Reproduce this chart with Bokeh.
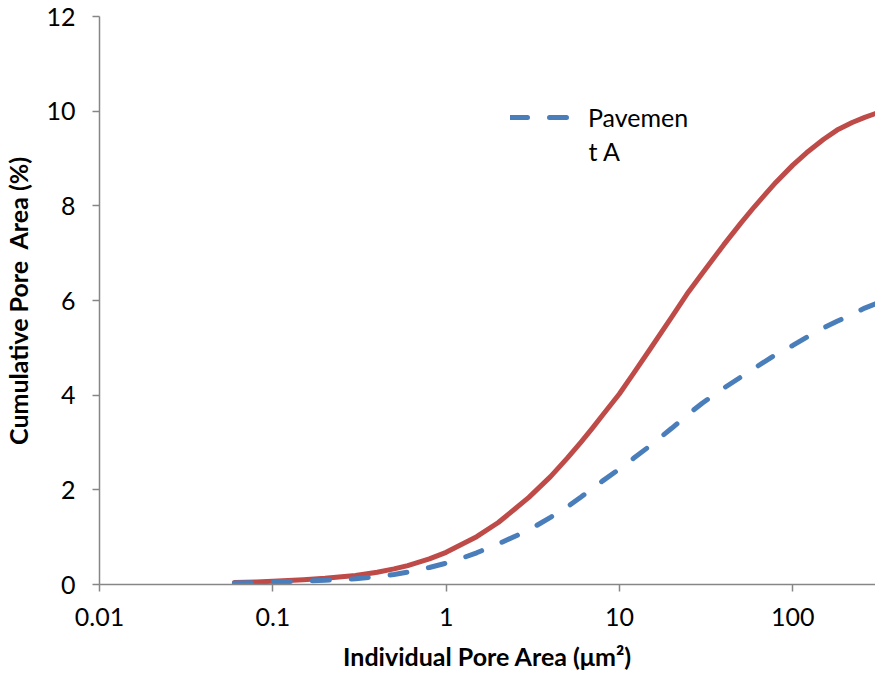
from bokeh.plotting import figure
from bokeh.models import (Range1d, FixedTicker, CustomJSTickFormatter, Legend, LegendItem, Label)
from bokeh.embed import file_html
from bokeh.resources import INLINE

# Data
pore_area = [0.06, 0.08, 0.1, 0.15, 0.2, 0.3, 0.4, 0.5, 0.6, 0.8, 1, 1.2, 1.5, 2, 2.5, 3, 4, 5, 6, 7, 8,
             10, 12, 15, 20, 25, 30, 40, 50, 60, 80, 100, 120, 150, 180, 220, 260, 300]
pavement_a = [0.03, 0.04, 0.05, 0.07, 0.09, 0.12, 0.17, 0.21, 0.26, 0.36, 0.45, 0.54, 0.67, 0.86, 1.02, 1.15, 1.42, 1.64, 1.85, 2.03, 2.19,
              2.44, 2.66, 2.93, 3.3, 3.6, 3.83, 4.15, 4.38, 4.57, 4.86, 5.05, 5.22, 5.42, 5.56, 5.71, 5.84, 5.93]
pavement_b = [0.04, 0.055, 0.07, 0.1, 0.13, 0.19, 0.26, 0.33, 0.4, 0.54, 0.68, 0.83, 1.01, 1.31, 1.6, 1.84, 2.28, 2.67, 3.01, 3.31, 3.58,
              4.03, 4.45, 4.97, 5.65, 6.18, 6.57, 7.18, 7.63, 7.98, 8.5, 8.86, 9.12, 9.4, 9.6, 9.76, 9.87, 9.95]

x_ticks = [0.01, 0.1, 1, 10, 100]
y_ticks = [0, 2, 4, 6, 8, 10, 12]

FONT = "Lato"
AXIS_COLOR = "#868686"

p = figure(width=875, height=678, x_axis_type="log",
           x_range=Range1d(0.01, 300), y_range=Range1d(0, 12),
           output_backend="svg", toolbar_location=None,
           min_border_left=98, min_border_right=0, min_border_top=16, min_border_bottom=94)
p.outline_line_color = None
p.xgrid.visible = False
p.ygrid.visible = False

red = p.line(pore_area, pavement_b, line_color="#BE4B48", line_width=5, line_cap="round", line_join="round")
blue = p.line(pore_area, pavement_a, line_color="#4A7EBB", line_width=5, line_dash="17 22", line_cap="round")

for ax in (p.xaxis[0], p.yaxis[0]):
    ax.axis_line_color = AXIS_COLOR
    ax.axis_line_width = 1.5
    ax.major_tick_line_color = AXIS_COLOR
    ax.major_tick_line_width = 1.5
    ax.major_tick_out = 7
    ax.major_tick_in = 0
    ax.minor_tick_line_color = None
    ax.major_label_text_font = FONT
    ax.major_label_text_font_size = "25px"
    ax.major_label_text_color = "#000000"
    ax.axis_label_text_font = FONT
    ax.axis_label_text_font_size = "25px"
    ax.axis_label_text_font_style = "bold"
    ax.axis_label_text_color = "#000000"

p.xaxis.ticker = FixedTicker(ticks=x_ticks)
p.xaxis.formatter = CustomJSTickFormatter(code="return tick.toString();")
p.xaxis.major_label_standoff = 16
p.xaxis.axis_label = "Individual Pore Area (μm²)"
p.xaxis.axis_label_standoff = 12

p.yaxis.ticker = FixedTicker(ticks=y_ticks)
p.yaxis.major_label_standoff = 17
p.yaxis.axis_label = "Cumulative Pore\u00a0 Area (%)"
p.yaxis.axis_label_standoff = 10

legend = Legend(items=[LegendItem(label="Pavemen", renderers=[blue])],
                location=(411, 452), glyph_width=64, glyph_height=30, label_height=30,
                label_standoff=14, padding=0, margin=0, spacing=0,
                border_line_color=None, background_fill_alpha=0,
                label_text_font=FONT, label_text_font_size="25px", label_text_color="#000000")
p.add_layout(legend, "center")

p.add_layout(Label(x=489, y=434, x_units="screen", y_units="screen", text="t A",
                   text_font=FONT, text_font_size="25px", text_color="#000000",
                   text_baseline="middle", text_align="left"))

open("out.html", "w").write(file_html(p, INLINE))
